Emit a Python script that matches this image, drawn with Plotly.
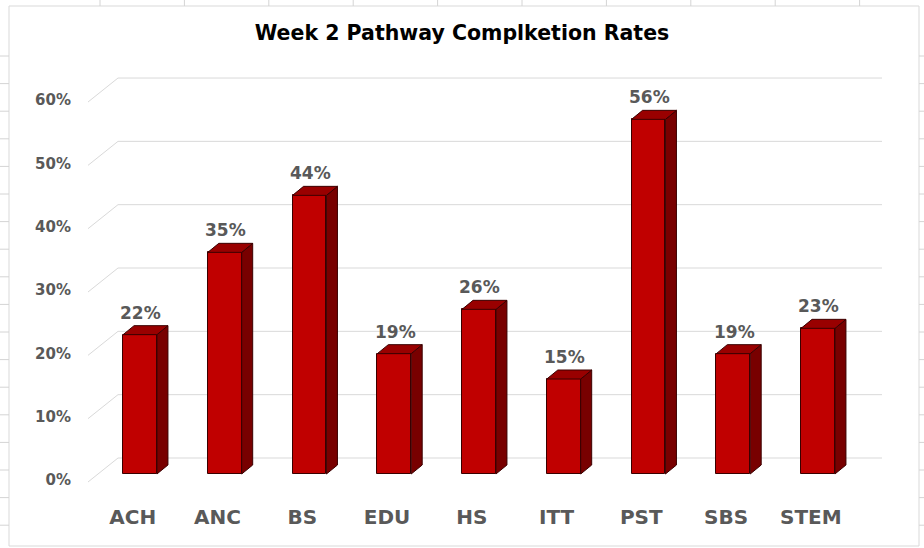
import plotly.graph_objects as go

# ---- data ----
categories = ["ACH", "ANC", "BS", "EDU", "HS", "ITT", "PST", "SBS", "STEM"]
rates = [22, 35, 44, 19, 26, 15, 56, 19, 23]          # percent
y_ticks = [0, 10, 20, 30, 40, 50, 60]
y_tick_labels = [f"{v}%" for v in y_ticks]
title_text = "Week 2 Pathway Complketion Rates"

# ---- geometry (pixel-based layout constants) ----
W, H = 924, 548
L, R, T, B = 80, 890, 60, 500           # plot-area edges in px
UX = 84.75                               # px per category
UY = 6.333                               # px per percentage point
X_FIRST = 140                            # px of first bar centre
Y_ZERO = 474                             # px of bar-front zero
x_range = [-(X_FIRST - L) / UX, -(X_FIRST - L) / UX + (R - L) / UX]
y_range = [-(B - Y_ZERO) / UY, (Y_ZERO - T) / UY]

def px2x(px):
    return x_range[0] + (px - L) / UX

def px2paper_x(px):
    return (px - L) / (R - L)

def px2paper_y(py):
    return (B - py) / (B - T)

HALF = 0.2                # half front-face width (category units)
DDX = 11 / UX             # depth offset x
DDY = 9 / UY              # depth offset y

FRONT = "#C00000"
SIDE = "#780000"
TOP = "#990000"
EDGE = "#3A0000"
GRID = "#D9D9D9"
TXT = "#595959"
FONT = "DejaVu Sans"

xs = list(range(len(categories)))

fig = go.Figure()

# front faces
fig.add_trace(go.Bar(
    x=xs, y=rates, width=2 * HALF,
    marker=dict(color=FRONT, line=dict(color=EDGE, width=1)),
    hoverinfo="skip", showlegend=False,
))

# side faces
sx, sy = [], []
for x, v in zip(xs, rates):
    sx += [x + HALF, x + HALF + DDX, x + HALF + DDX, x + HALF, x + HALF, None]
    sy += [0, DDY, v + DDY, v, 0, None]
fig.add_trace(go.Scatter(
    x=sx, y=sy, mode="lines", fill="toself", fillcolor=SIDE,
    line=dict(color=EDGE, width=1), hoverinfo="skip", showlegend=False,
))

# top faces
tx, ty = [], []
for x, v in zip(xs, rates):
    tx += [x - HALF, x + HALF, x + HALF + DDX, x - HALF + DDX, x - HALF, None]
    ty += [v, v, v + DDY, v + DDY, v, None]
fig.add_trace(go.Scatter(
    x=tx, y=ty, mode="lines", fill="toself", fillcolor=TOP,
    line=dict(color=EDGE, width=1), hoverinfo="skip", showlegend=False,
))

# data labels
for x, v in zip(xs, rates):
    fig.add_annotation(
        x=x + 0.01, y=v, text=f"<b>{v}%</b>", showarrow=False,
        xref="x", yref="y", yanchor="middle", yshift=22,
        font=dict(family=FONT, size=17, color=TXT),
    )

shapes = []
# back-wall gridlines with diagonal side-wall segment
x_a, x_b, x_c = px2x(88), px2x(118), px2x(882)
off_front = (Y_ZERO - 482) / UY
off_back = (Y_ZERO - 458) / UY
for v in y_ticks:
    shapes.append(dict(
        type="path", xref="x", yref="y", layer="below",
        path=f"M {x_a},{v + off_front} L {x_b},{v + off_back} L {x_c},{v + off_back}",
        line=dict(color=GRID, width=1),
    ))

# chart border
shapes.append(dict(
    type="rect", xref="paper", yref="paper", layer="below",
    x0=px2paper_x(9), x1=px2paper_x(919), y0=px2paper_y(546), y1=px2paper_y(6),
    line=dict(color="#D9D9D9", width=1), fillcolor="rgba(0,0,0,0)",
))
# spreadsheet cell tick marks outside the chart
for k in range(10):
    px = 100 + 84.4 * k
    shapes.append(dict(type="line", xref="paper", yref="paper", layer="below",
                       x0=px2paper_x(px), x1=px2paper_x(px),
                       y0=px2paper_y(0), y1=px2paper_y(6),
                       line=dict(color="#D4D4D4", width=1)))
for k in range(18):
    py = 56 + 27.6 * k
    if py > 540:
        break
    shapes.append(dict(type="line", xref="paper", yref="paper", layer="below",
                       x0=px2paper_x(0), x1=px2paper_x(9),
                       y0=px2paper_y(py), y1=px2paper_y(py),
                       line=dict(color="#D4D4D4", width=1)))
    shapes.append(dict(type="line", xref="paper", yref="paper", layer="below",
                       x0=px2paper_x(919), x1=px2paper_x(924),
                       y0=px2paper_y(py), y1=px2paper_y(py),
                       line=dict(color="#D4D4D4", width=1)))

fig.update_layout(
    width=W, height=H,
    margin=dict(l=L, r=W - R, t=T, b=H - B, pad=0),
    paper_bgcolor="white", plot_bgcolor="white",
    showlegend=False,
    shapes=shapes,
    title=dict(
        text=f"<b>{title_text}</b>", x=0.5, xref="container", xanchor="center",
        y=1 - 33 / H, yref="container", yanchor="middle",
        font=dict(family=FONT, size=20.5, color="#000000"),
    ),
    xaxis=dict(
        range=x_range, showgrid=False, zeroline=False, showline=False,
        tickmode="array", tickvals=[x - 0.085 for x in xs],
        ticktext=[f"<b>{c}</b>" for c in categories],
        ticks="", ticklabelstandoff=3,
        tickfont=dict(family=FONT, size=20, color=TXT),
        fixedrange=True,
    ),
    yaxis=dict(
        range=y_range, showgrid=False, zeroline=False, showline=False,
        tickmode="array", tickvals=[v - 6 / UY for v in y_ticks],
        ticktext=[f"<b>{t}</b>" for t in y_tick_labels],
        ticks="", ticklabelstandoff=8,
        tickfont=dict(family=FONT, size=15, color=TXT),
        fixedrange=True,
    ),
    bargap=0,
)

fig.write_html(
    "out.html",
    config={"displayModeBar": False},
    post_script="document.body.style.margin='0';document.body.style.overflow='hidden';",
)
